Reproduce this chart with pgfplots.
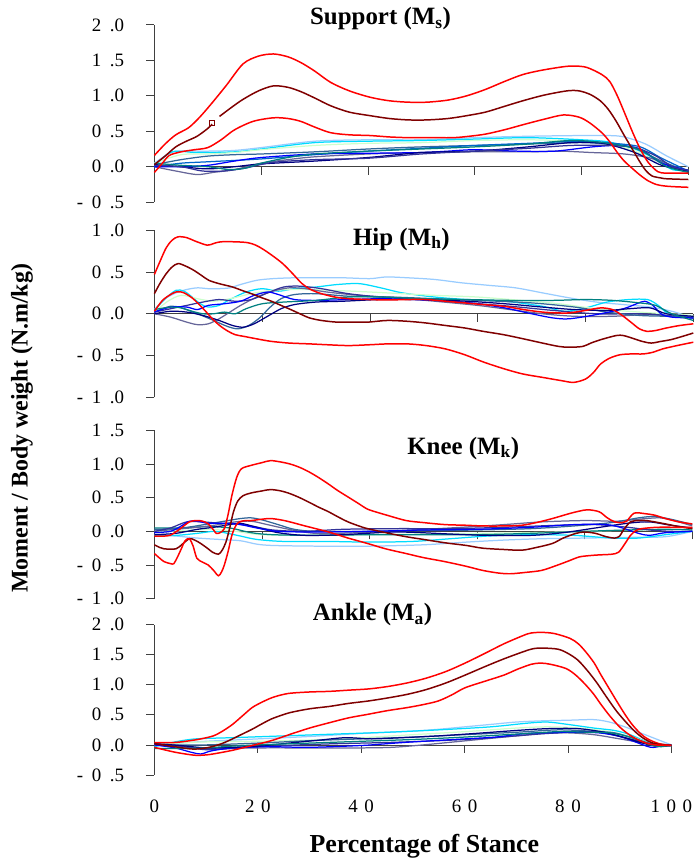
\documentclass[border=0pt]{standalone}
\usepackage{pgfplots}
\pgfplotsset{compat=1.18}
\usepackage{fontspec}
\setmainfont{Liberation Serif}
\newcommand{\gp}{\hspace{0.45em}}
\newcommand{\gx}{\hspace{0.35em}}

\definecolor{RED}{RGB}{255,0,0}
\definecolor{DKRED}{RGB}{128,0,0}
\definecolor{LBLUE}{RGB}{153,204,255}
\definecolor{CYAN}{RGB}{0,220,255}
\definecolor{PGREEN}{RGB}{204,255,204}
\definecolor{TEAL}{RGB}{0,128,128}
\definecolor{BLUE}{RGB}{0,0,255}
\definecolor{NAVY}{RGB}{0,0,128}
\definecolor{SLATE}{RGB}{102,102,153}
\definecolor{STEEL}{RGB}{51,102,153}
\definecolor{PERI}{RGB}{51,51,153}
\definecolor{OBLUE}{RGB}{0,102,204}

\pgfplotsset{
  panel/.style={
    scale only axis, xmin=0, xmax=100,
    axis x line=middle, axis y line=left,
    axis line style={-, black!75, line width=0.8pt},
    tick style={black!75, line width=0.8pt},
    tick align=outside, major tick length=8pt,
    xtick={20,40,60,80,100}, xticklabels={},
    xticklabel style={font=\fontsize{19pt}{19pt}\selectfont},
    yticklabel style={font=\fontsize{19pt}{19pt}\selectfont, xshift=-19pt},
    anchor=south west, clip=false,
  },
  grp/.style={smooth, line width=1.25pt},
  rd/.style={smooth, line width=1.5pt},
}

\begin{document}
\begin{tikzpicture}
\path (0,0) rectangle (701pt,862pt);

% ---------------- Support ----------------
\begin{axis}[panel, at={(155pt,659pt)}, width=536pt, height=178pt,
  ymin=-0.5, ymax=2, ytick={-0.5,0,0.5,1,1.5,2},
  yticklabels={-\gp0\gp.5, 0\gp.0, 0\gp.5, 1\gp.0, 1\gp.5, 2\gp.0}]
\addplot[grp, LBLUE] coordinates {(0,0.05)(3,0.2)(5,0.22)(10,0.22)(15,0.23)(20,0.27)(30,0.36)(40,0.38)(50,0.38)(60,0.41)(70,0.43)(80,0.44)(85,0.44)(88,0.42)(92,0.32)(96,0.15)(100,0.0)};
\addplot[grp, CYAN] coordinates {(0,0.0)(2,0.15)(4,0.22)(8,0.2)(15,0.21)(20,0.25)(30,0.34)(40,0.36)(50,0.37)(60,0.39)(70,0.41)(80,0.38)(85,0.35)(90,0.25)(94,0.1)(97,-0.04)(100,-0.05)};
\addplot[grp, PGREEN] coordinates {(0,0.05)(5,0.17)(10,0.18)(15,0.2)(20,0.24)(30,0.3)(40,0.33)(50,0.34)(60,0.37)(70,0.38)(80,0.36)(85,0.33)(90,0.22)(95,0.05)(100,-0.05)};
\addplot[grp, SLATE] coordinates {(0,0.0)(4,-0.06)(8,-0.11)(11,-0.08)(15,-0.04)(20,0.05)(25,0.1)(30,0.14)(40,0.18)(50,0.2)(60,0.21)(70,0.21)(76,0.22)(82,0.2)(88,0.18)(93,0.12)(97,0.0)(100,-0.05)};
\addplot[grp, STEEL] coordinates {(0,0.03)(5,0.1)(10,0.15)(15,0.17)(20,0.18)(30,0.21)(40,0.25)(50,0.28)(60,0.3)(70,0.32)(80,0.34)(86,0.31)(90,0.26)(95,0.08)(100,-0.07)};
\addplot[grp, OBLUE] coordinates {(0,0.0)(5,0.05)(10,0.07)(20,0.11)(30,0.17)(40,0.22)(50,0.26)(60,0.3)(70,0.33)(80,0.36)(86,0.33)(91,0.28)(95,0.12)(100,-0.06)};
\addplot[grp, BLUE] coordinates {(0,0.0)(5,0.0)(10,0.02)(15,0.08)(20,0.13)(30,0.18)(40,0.19)(50,0.2)(55,0.22)(60,0.24)(68,0.22)(75,0.22)(82,0.28)(87,0.3)(91,0.25)(95,0.05)(100,-0.05)};
\addplot[grp, NAVY] coordinates {(0,0.03)(5,0.0)(10,-0.03)(15,0.0)(20,0.04)(30,0.08)(40,0.13)(50,0.2)(60,0.22)(70,0.28)(78,0.34)(84,0.33)(90,0.2)(95,0.02)(100,-0.06)};
\addplot[grp, PERI] coordinates {(0,0.02)(5,0.0)(9,-0.06)(13,-0.06)(17,-0.02)(22,0.06)(30,0.1)(40,0.12)(50,0.18)(60,0.22)(70,0.26)(78,0.3)(85,0.3)(90,0.27)(94,0.15)(97,0.0)(100,-0.05)};
\addplot[grp, TEAL] coordinates {(0,0.05)(5,0.02)(10,0.0)(14,-0.04)(17,-0.02)(20,0.05)(25,0.13)(30,0.18)(40,0.22)(50,0.25)(60,0.28)(70,0.32)(78,0.37)(84,0.34)(90,0.26)(93,0.15)(96,0.0)(100,-0.08)};
\addplot[rd, RED] coordinates {(0,0.16)(2,0.32)(4,0.45)(6.4,0.55)(8.5,0.7)(10.8,0.9)(13.5,1.15)(16.6,1.45)(19.5,1.56)(22.3,1.59)(25,1.55)(27.4,1.47)(30,1.35)(33,1.19)(36.5,1.07)(40.4,0.98)(44,0.93)(47.6,0.91)(51,0.91)(55,0.94)(58.5,1.0)(62,1.09)(65.5,1.2)(69,1.30)(72.5,1.36)(76.6,1.41)(78.7,1.42)(81,1.40)(83.8,1.30)(85.3,1.2)(86.7,1.0)(88,0.77)(89.6,0.48)(91,0.25)(92.5,0.06)(94.3,-0.07)(96,-0.09)(100,-0.09)};
\addplot[rd, DKRED] coordinates {(0,0.03)(2,0.15)(4,0.28)(6,0.36)(8,0.43)(10,0.54)(10.8,0.6)};
\addplot[only marks, mark=square, DKRED, mark size=2.5pt, mark options={line width=1pt}] coordinates {(10.8,0.61)};
\addplot[rd, DKRED] coordinates {(12.2,0.71)(14.5,0.84)(16.6,0.95)(19.5,1.07)(22.3,1.14)(25,1.12)(27.4,1.06)(30,0.97)(33,0.86)(36.5,0.77)(40.4,0.72)(44,0.68)(47.6,0.66)(51,0.66)(55,0.68)(58.5,0.72)(62,0.77)(65.5,0.85)(69,0.93)(73,1.01)(77.3,1.07)(79.5,1.07)(81.6,1.02)(83.5,0.93)(85,0.81)(86.5,0.64)(88,0.44)(89.5,0.25)(91,0.06)(92,-0.05)(93.2,-0.13)(95,-0.16)(96,-0.17)(100,-0.18)};
\addplot[rd, RED] coordinates {(0,-0.08)(1.5,0.05)(2.8,0.16)(5,0.21)(7.5,0.24)(10,0.27)(12.5,0.38)(15,0.52)(18.5,0.64)(22.3,0.69)(25,0.68)(27.4,0.64)(30,0.56)(33,0.48)(36.5,0.45)(40.4,0.44)(44,0.42)(47.6,0.41)(52,0.41)(56,0.41)(59,0.43)(62,0.46)(65.5,0.52)(69.4,0.6)(73,0.67)(76.6,0.73)(79.5,0.70)(81.5,0.62)(83.8,0.48)(85.3,0.35)(86.7,0.2)(88,0.08)(89.6,-0.03)(91,-0.12)(92.5,-0.20)(94,-0.25)(95.4,-0.27)(97,-0.28)(100,-0.29)};
\end{axis}

% ---------------- Hip ----------------
\begin{axis}[panel, at={(155pt,463pt)}, width=541pt, height=168pt,
  ymin=-1, ymax=1, ytick={-1,-0.5,0,0.5,1},
  yticklabels={-\gp1\gp.0, -\gp0\gp.5, 0\gp.0, 0\gp.5, 1\gp.0}]
\addplot[grp, LBLUE] coordinates {(0,0.05)(2,0.18)(4,0.25)(6,0.29)(8,0.31)(10,0.3)(12,0.3)(14,0.31)(16,0.35)(19,0.4)(22,0.42)(26,0.43)(30,0.43)(35,0.43)(40,0.42)(43,0.44)(47,0.43)(52,0.41)(57,0.37)(62,0.34)(67,0.31)(72,0.25)(77,0.19)(82,0.14)(87,0.11)(92,0.08)(96,0.03)(100,-0.05)};
\addplot[grp, CYAN] coordinates {(0,0.04)(2,0.18)(4,0.28)(5.5,0.27)(7,0.2)(8.5,0.12)(10,0.08)(12,0.1)(14,0.17)(17,0.26)(20,0.3)(23,0.27)(26,0.3)(30,0.32)(34,0.35)(38,0.36)(42,0.31)(46,0.25)(52,0.2)(58,0.17)(65,0.15)(72,0.09)(76,0.03)(80,0.07)(84,0.14)(88,0.17)(91.5,0.17)(93.5,0.1)(95.5,0.0)(100,-0.05)};
\addplot[grp, PGREEN] coordinates {(0,0.02)(2.5,0.15)(5,0.22)(8,0.18)(11,0.15)(14,0.18)(18,0.24)(22,0.28)(27,0.29)(33,0.28)(40,0.26)(46,0.24)(52,0.22)(60,0.2)(68,0.16)(75,0.12)(82,0.06)(90,0.02)(95,0.0)(100,-0.02)};
\addplot[grp, SLATE] coordinates {(0,0.0)(3,-0.04)(6,-0.1)(8,-0.13)(10,-0.12)(12,-0.06)(14,0.02)(16,0.1)(19,0.2)(22,0.27)(25,0.31)(28,0.3)(32,0.26)(38,0.22)(45,0.19)(52,0.15)(60,0.1)(66,0.05)(72,0.0)(78,-0.03)(85,-0.03)(91,-0.01)(95,-0.02)(100,-0.05)};
\addplot[grp, PERI] coordinates {(0,0.02)(3,0.06)(6,0.1)(9,0.14)(12,0.17)(15,0.15)(18,0.17)(21,0.25)(24,0.32)(27,0.33)(31,0.3)(36,0.24)(42,0.2)(50,0.17)(58,0.13)(66,0.09)(74,0.04)(82,0.0)(90,0.0)(95,-0.02)(100,-0.05)};
\addplot[grp, STEEL] coordinates {(0,0.02)(3,0.09)(5,0.07)(8,0.0)(11,-0.08)(13.5,-0.15)(15.5,-0.18)(17.5,-0.14)(19.5,-0.05)(21.5,0.08)(23.5,0.18)(26,0.23)(30,0.24)(36,0.21)(44,0.2)(52,0.18)(60,0.16)(70,0.13)(78,0.08)(84,0.02)(90,-0.02)(95,-0.03)(100,-0.04)};
\addplot[grp, BLUE] coordinates {(0,0.02)(3,0.08)(6,0.08)(8,0.05)(10,0.1)(13,0.12)(16,0.15)(18.5,0.22)(21,0.26)(23,0.23)(26,0.17)(30,0.16)(36,0.17)(42,0.18)(48,0.17)(55,0.15)(60,0.12)(65,0.07)(70,0.0)(74,-0.05)(77,-0.06)(82,-0.01)(87,0.06)(89.5,0.12)(91,0.15)(92.5,0.1)(94,0.0)(96,-0.04)(100,-0.05)};
\addplot[grp, NAVY] coordinates {(0,0.0)(3,0.03)(6,0.02)(9,-0.02)(12,-0.08)(14.5,-0.14)(16.5,-0.16)(18.5,-0.12)(21,-0.03)(23.5,0.06)(26,0.11)(30,0.14)(35,0.15)(42,0.17)(50,0.17)(58,0.15)(65,0.12)(72,0.08)(78,0.05)(84,0.04)(88,0.06)(92,0.07)(95,0.0)(100,-0.03)};
\addplot[grp, TEAL] coordinates {(0,0.05)(3,0.08)(5,0.07)(7,0.03)(9,0.0)(11,0.0)(13,0.02)(15,0.0)(17,0.06)(20,0.12)(24,0.14)(30,0.16)(36,0.2)(42,0.2)(50,0.18)(58,0.17)(66,0.16)(74,0.16)(80,0.17)(85,0.16)(90,0.13)(93,0.1)(96,0.0)(100,-0.08)};
\addplot[rd, RED] coordinates {(0,0.47)(1,0.62)(2.2,0.79)(3.3,0.88)(4.4,0.92)(6,0.91)(7.5,0.87)(9.8,0.82)(11,0.84)(12.3,0.86)(15,0.86)(17.3,0.85)(18.8,0.82)(20.2,0.77)(22,0.69)(23.8,0.6)(25.5,0.49)(27.4,0.36)(29,0.29)(31,0.24)(33.5,0.2)(36,0.18)(40,0.17)(43,0.165)(47,0.17)(50.4,0.17)(54,0.15)(57.6,0.13)(61,0.11)(64.8,0.09)(68.5,0.05)(72,0.02)(75,0.01)(77,0.01)(80,0.04)(82.8,0.07)(85,0.05)(86.8,-0.02)(88.6,-0.11)(90,-0.18)(91.4,-0.21)(93,-0.2)(95,-0.17)(97.5,-0.14)(100,-0.12)};
\addplot[rd, DKRED] coordinates {(0,0.24)(1,0.36)(2.2,0.48)(3.3,0.56)(4.4,0.60)(5.8,0.57)(7.3,0.52)(8.7,0.46)(10.1,0.40)(12,0.36)(14.5,0.32)(16.2,0.28)(18,0.24)(20,0.19)(21.7,0.15)(23.5,0.1)(25.3,0.05)(27,0.0)(28.8,-0.05)(31,-0.08)(33.9,-0.10)(37,-0.10)(39.6,-0.10)(43.2,-0.08)(47,-0.09)(50.4,-0.11)(54,-0.14)(57.6,-0.17)(61,-0.21)(64.8,-0.25)(68.5,-0.3)(72,-0.35)(75,-0.39)(77,-0.40)(79.5,-0.39)(81,-0.35)(82.8,-0.31)(85.7,-0.26)(87,-0.26)(88.6,-0.29)(90.5,-0.33)(92.2,-0.35)(94,-0.33)(95.8,-0.31)(98,-0.27)(100,-0.23)};
\addplot[rd, RED] coordinates {(0,0.03)(1.5,0.16)(3,0.23)(4,0.26)(5,0.26)(5.8,0.24)(7,0.19)(8,0.13)(9.5,0.03)(10.9,-0.07)(12.3,-0.15)(13.7,-0.21)(15,-0.25)(16.6,-0.27)(19,-0.3)(21.7,-0.33)(25,-0.35)(28.8,-0.36)(32,-0.37)(36,-0.38)(40,-0.37)(43.2,-0.36)(47,-0.36)(50.4,-0.38)(54,-0.42)(57.6,-0.49)(61.2,-0.58)(65,-0.66)(68.4,-0.72)(72,-0.76)(75.6,-0.80)(77.8,-0.82)(80,-0.78)(81.5,-0.7)(82.8,-0.60)(84.5,-0.53)(86.4,-0.49)(88.5,-0.48)(90.7,-0.48)(92.5,-0.46)(94.3,-0.42)(97,-0.38)(100,-0.34)};
\end{axis}

% ---------------- Knee ----------------
\begin{axis}[panel, at={(155pt,261pt)}, width=540pt, height=169pt,
  ymin=-1, ymax=1.5, ytick={-1,-0.5,0,0.5,1,1.5},
  yticklabels={-\gp1\gp.0, -\gp0\gp.5, 0\gp.0, 0\gp.5, 1\gp.0, 1\gp.5}]
\addplot[grp, LBLUE] coordinates {(0,-0.05)(4,-0.07)(8,-0.1)(12,-0.12)(16,-0.14)(19,-0.19)(22,-0.21)(30,-0.22)(40,-0.22)(50,-0.2)(58,-0.16)(65,-0.13)(72,-0.11)(80,-0.1)(88,-0.09)(95,-0.08)(100,0.0)};
\addplot[grp, CYAN] coordinates {(0,-0.06)(4,-0.06)(8,-0.03)(11,0.0)(13,-0.02)(16,-0.07)(19,-0.12)(24,-0.15)(32,-0.15)(40,-0.16)(48,-0.15)(55,-0.11)(62,-0.07)(70,-0.05)(78,-0.06)(85,-0.1)(90,-0.1)(95,-0.05)(100,0.0)};
\addplot[grp, PGREEN] coordinates {(0,0.0)(5,0.01)(10,0.03)(15,0.0)(20,-0.05)(30,-0.06)(40,-0.05)(50,-0.04)(60,-0.03)(70,-0.02)(80,0.0)(90,0.02)(100,0.03)};
\addplot[grp, TEAL] coordinates {(0,0.05)(5,0.05)(10,0.07)(14,0.05)(18,-0.02)(22,-0.05)(30,-0.06)(40,-0.05)(50,-0.05)(60,-0.05)(70,-0.03)(80,0.0)(88,0.02)(95,0.03)(100,0.02)};
\addplot[grp, SLATE] coordinates {(0,0.0)(4,0.03)(8,0.06)(12,0.1)(15,0.14)(18,0.15)(21,0.1)(25,0.03)(30,-0.03)(38,-0.02)(45,0.01)(55,0.05)(65,0.1)(72,0.14)(80,0.16)(86,0.15)(90,0.18)(94,0.2)(97,0.15)(100,0.08)};
\addplot[grp, STEEL] coordinates {(0,0.03)(4,0.04)(7,0.07)(10,0.11)(13,0.15)(16,0.19)(18,0.2)(20,0.17)(23,0.1)(26,0.03)(30,0.0)(40,0.0)(50,0.01)(60,0.02)(70,0.04)(78,0.08)(85,0.13)(90,0.2)(93,0.22)(96,0.18)(100,0.1)};
\addplot[grp, PERI] coordinates {(0,0.0)(3,0.05)(6,0.14)(9,0.14)(12,0.12)(15,0.11)(18,0.08)(22,0.02)(28,0.0)(35,0.03)(45,0.04)(55,0.04)(65,0.06)(75,0.09)(82,0.1)(88,0.06)(92,0.02)(96,0.0)(100,0.0)};
\addplot[grp, NAVY] coordinates {(0,-0.05)(4,-0.03)(8,0.03)(11,0.06)(14,0.1)(16,0.12)(19,0.06)(23,-0.02)(28,-0.06)(35,-0.05)(45,-0.01)(55,-0.04)(62,-0.06)(70,-0.06)(76,-0.02)(82,0.05)(88,0.12)(92,0.14)(96,0.09)(100,0.05)};
\addplot[grp, BLUE] coordinates {(0,-0.02)(3,0.0)(5,0.08)(6.5,0.15)(8,0.15)(10,0.12)(13,0.12)(16,0.1)(19,0.05)(23,0.0)(30,-0.01)(40,0.0)(50,0.02)(60,0.03)(70,0.06)(78,0.1)(84,0.1)(87,0.05)(90,-0.03)(92,-0.06)(95,-0.02)(100,0.0)};
\addplot[rd, RED] coordinates {(0,-0.07)(1.5,-0.07)(2.9,-0.06)(4.5,0.02)(6.5,0.14)(7.9,0.16)(9,0.15)(10,0.11)(11,0.02)(11.5,-0.03)(12.2,-0.02)(13,0.04)(13.7,0.25)(14.4,0.53)(15.3,0.8)(16.2,0.93)(18,0.98)(20,1.02)(21.6,1.05)(23.5,1.03)(25.2,1.0)(27,0.95)(28.8,0.88)(30.5,0.8)(32.4,0.70)(34,0.61)(36,0.51)(38,0.41)(39.6,0.33)(41.5,0.28)(43.2,0.24)(46.8,0.16)(50,0.13)(54,0.10)(58,0.09)(61,0.08)(65,0.08)(68.3,0.09)(71,0.13)(74,0.19)(77,0.26)(79,0.3)(80.6,0.32)(82.7,0.29)(84.2,0.2)(85.6,0.14)(87,0.13)(87.8,0.15)(89.2,0.27)(91.4,0.26)(93,0.24)(95,0.19)(97.5,0.14)(100,0.11)};
\addplot[rd, DKRED] coordinates {(0,-0.2)(1,-0.24)(1.8,-0.26)(4,-0.26)(5.2,-0.19)(6.5,-0.11)(7.5,-0.13)(8.6,-0.18)(10,-0.26)(10.8,-0.31)(11.9,-0.34)(12.6,-0.28)(13.3,-0.16)(14,0.05)(14.7,0.29)(15.5,0.45)(16.5,0.53)(18,0.57)(20,0.6)(21.6,0.62)(23.5,0.6)(25.2,0.56)(27,0.5)(28.8,0.43)(30.5,0.36)(32.4,0.29)(34,0.22)(36,0.14)(38,0.08)(39.6,0.04)(43,-0.02)(46.8,-0.08)(50,-0.12)(54,-0.17)(58,-0.21)(61,-0.25)(65,-0.27)(68.3,-0.28)(71,-0.24)(74,-0.18)(76,-0.1)(78.4,-0.03)(80,-0.01)(82,-0.03)(84,-0.08)(85.6,-0.10)(86.5,-0.07)(87.2,0.02)(88.5,0.14)(90,0.16)(91.4,0.16)(93,0.14)(95,0.11)(97.5,0.07)(100,0.04)};
\addplot[rd, RED] coordinates {(0,-0.33)(1,-0.4)(1.8,-0.45)(3,-0.48)(3.6,-0.48)(4.3,-0.38)(5,-0.26)(5.7,-0.14)(6.5,-0.11)(7.2,-0.22)(7.9,-0.4)(9,-0.46)(10,-0.5)(11,-0.58)(11.9,-0.66)(12.5,-0.6)(13,-0.5)(13.7,-0.3)(14.4,-0.06)(15.1,0.08)(15.8,0.14)(17,0.16)(18,0.16)(20,0.18)(21.6,0.19)(23.5,0.17)(25.2,0.14)(28,0.08)(32.4,-0.01)(36,-0.1)(39.6,-0.18)(43,-0.26)(46.8,-0.33)(50,-0.39)(54,-0.45)(58,-0.52)(61,-0.58)(64,-0.62)(66.2,-0.63)(69,-0.61)(72,-0.58)(75,-0.5)(77,-0.44)(79,-0.38)(81,-0.36)(82.7,-0.35)(85,-0.34)(86.3,-0.31)(87.5,-0.18)(88.5,-0.06)(89.5,0.01)(90.6,0.04)(93.5,0.06)(97,0.06)(100,0.06)};
\end{axis}

% ---------------- Ankle ----------------
\begin{axis}[panel, at={(155pt,84pt)}, width=519pt, height=151pt,
  ymin=-0.5, ymax=2, ytick={-0.5,0,0.5,1,1.5,2},
  yticklabels={-\gp0\gp.5, 0\gp.0, 0\gp.5, 1\gp.0, 1\gp.5, 2\gp.0},
  xtick={0,20,40,60,80,100}, hide obscured x ticks=false,
  xticklabels={0, 2\gx0, 4\gx0, 6\gx0, 8\gx0, 1\gx0\gx0},
  xticklabel style={yshift=-44pt}]
\addplot[grp, LBLUE] coordinates {(0,0.0)(5,0.03)(10,0.06)(15,0.08)(20,0.1)(30,0.14)(40,0.19)(50,0.23)(55,0.26)(60,0.3)(65,0.34)(70,0.38)(75,0.4)(80,0.41)(85,0.42)(88,0.38)(91,0.3)(94,0.2)(97,0.1)(100,0.0)};
\addplot[grp, CYAN] coordinates {(0,-0.03)(4,0.05)(8,0.1)(15,0.12)(25,0.15)(35,0.18)(45,0.21)(55,0.25)(65,0.3)(72,0.36)(76,0.38)(80,0.34)(85,0.28)(89,0.24)(92,0.17)(95,0.06)(98,-0.01)(100,-0.02)};
\addplot[grp, PGREEN] coordinates {(0,0.0)(5,0.03)(10,0.05)(20,0.06)(30,0.08)(40,0.12)(50,0.17)(60,0.22)(70,0.28)(76,0.3)(82,0.28)(88,0.22)(92,0.14)(96,0.03)(100,0.0)};
\addplot[grp, SLATE] coordinates {(0,0.0)(5,-0.03)(10,-0.06)(20,-0.05)(30,-0.05)(40,-0.05)(46,-0.04)(52,0.0)(58,0.05)(64,0.1)(70,0.15)(75,0.19)(80,0.2)(85,0.17)(90,0.1)(95,0.03)(100,0.0)};
\addplot[grp, STEEL] coordinates {(0,0.0)(5,0.0)(10,0.0)(20,0.03)(30,0.07)(40,0.1)(50,0.13)(60,0.17)(70,0.21)(78,0.25)(84,0.23)(89,0.2)(93,0.1)(97,0.0)(100,-0.01)};
\addplot[grp, PERI] coordinates {(0,0.02)(5,-0.02)(10,-0.08)(15,-0.06)(20,-0.03)(28,0.0)(35,0.02)(45,0.04)(55,0.07)(62,0.1)(70,0.15)(76,0.19)(84,0.22)(88,0.18)(92,0.1)(96,0.02)(100,0.0)};
\addplot[grp, BLUE] coordinates {(0,0.0)(4,-0.05)(7,-0.12)(9,-0.15)(11,-0.1)(15,-0.05)(22,-0.03)(30,-0.04)(40,-0.01)(45,0.02)(50,0.05)(60,0.1)(66,0.13)(72,0.19)(80,0.21)(86,0.2)(90,0.14)(93,0.05)(96,-0.04)(98,-0.02)(100,0.0)};
\addplot[grp, NAVY] coordinates {(0,0.02)(5,-0.01)(10,-0.05)(15,-0.04)(20,-0.02)(26,0.03)(32,0.08)(37,0.12)(42,0.1)(48,0.12)(55,0.15)(62,0.19)(70,0.24)(76,0.27)(82,0.27)(87,0.21)(91,0.12)(94,0.04)(97,-0.02)(100,-0.01)};
\addplot[grp, TEAL] coordinates {(0,-0.06)(5,-0.06)(10,-0.05)(15,-0.02)(20,0.0)(30,0.03)(40,0.06)(50,0.09)(60,0.13)(70,0.18)(78,0.22)(84,0.21)(88,0.2)(92,0.13)(96,0.0)(98,-0.03)(100,0.0)};
\addplot[rd, RED] coordinates {(0,0.04)(3.9,0.04)(6.9,0.07)(9,0.1)(11.4,0.15)(13.2,0.23)(15.1,0.34)(17,0.48)(18.9,0.62)(20.8,0.71)(22.6,0.78)(24.5,0.83)(26.4,0.86)(30.1,0.88)(33.9,0.89)(37.6,0.91)(41.4,0.93)(45.1,0.97)(48.9,1.03)(52.6,1.11)(56.4,1.22)(60.1,1.36)(63.9,1.52)(67.6,1.68)(71.4,1.82)(72.9,1.86)(75,1.87)(77.4,1.85)(80.4,1.77)(82,1.68)(83.4,1.55)(85,1.37)(86.4,1.16)(88,0.93)(89.4,0.73)(91,0.51)(92.4,0.34)(94,0.19)(95.4,0.10)(97.6,0.02)(100,-0.01)};
\addplot[rd, DKRED] coordinates {(0,0.02)(3.9,-0.03)(7.6,-0.07)(10.6,-0.04)(13,0.02)(15.1,0.10)(17,0.18)(18.9,0.26)(20.8,0.35)(22.6,0.43)(24.5,0.49)(26.4,0.54)(30,0.60)(33.9,0.64)(37.6,0.69)(41.4,0.73)(45.1,0.78)(48.9,0.84)(52.6,0.92)(56.4,1.03)(60.1,1.16)(63.9,1.30)(67.6,1.43)(71.4,1.55)(73.3,1.6)(75.1,1.61)(78.1,1.59)(80,1.52)(81.9,1.41)(83.8,1.23)(85.6,1.03)(87.5,0.79)(89.4,0.56)(91.3,0.37)(93.1,0.21)(94.6,0.11)(96.1,0.04)(98,0.0)(100,-0.01)};
\addplot[rd, RED] coordinates {(0,-0.04)(3.9,-0.12)(7.6,-0.17)(9.5,-0.17)(11.4,-0.15)(15.1,-0.09)(18.9,-0.01)(22.6,0.07)(26.4,0.18)(30,0.28)(33.9,0.37)(37.6,0.45)(41.4,0.51)(45.1,0.57)(48.9,0.62)(52,0.67)(54.9,0.73)(57.5,0.83)(60.1,0.95)(64,1.06)(67.6,1.16)(70.3,1.26)(72.9,1.34)(74.7,1.36)(76.6,1.34)(79.6,1.27)(81.5,1.16)(83.4,1.0)(85,0.84)(86.4,0.67)(88.2,0.47)(90.1,0.29)(92,0.16)(93.9,0.07)(95.5,0.02)(96.9,0.0)(100,-0.01)};
\end{axis}

\node[font=\fontsize{25pt}{25pt}\selectfont\bfseries] at (382pt,843pt) {Support (M\textsubscript{s})};
\node[font=\fontsize{25pt}{25pt}\selectfont\bfseries] at (403pt,622pt) {Hip (M\textsubscript{h})};
\node[font=\fontsize{25pt}{25pt}\selectfont\bfseries] at (465pt,412pt) {Knee (M\textsubscript{k})};
\node[font=\fontsize{25pt}{25pt}\selectfont\bfseries] at (374pt,245pt) {Ankle (M\textsubscript{a})};
\node[font=\fontsize{26pt}{26pt}\selectfont\bfseries] at (426pt,12pt) {Percentage of Stance};
\node[font=\fontsize{24pt}{24pt}\selectfont\bfseries, rotate=90] at (22pt,432pt) {Moment / Body weight (N.m/kg)};
\end{tikzpicture}
\end{document}
